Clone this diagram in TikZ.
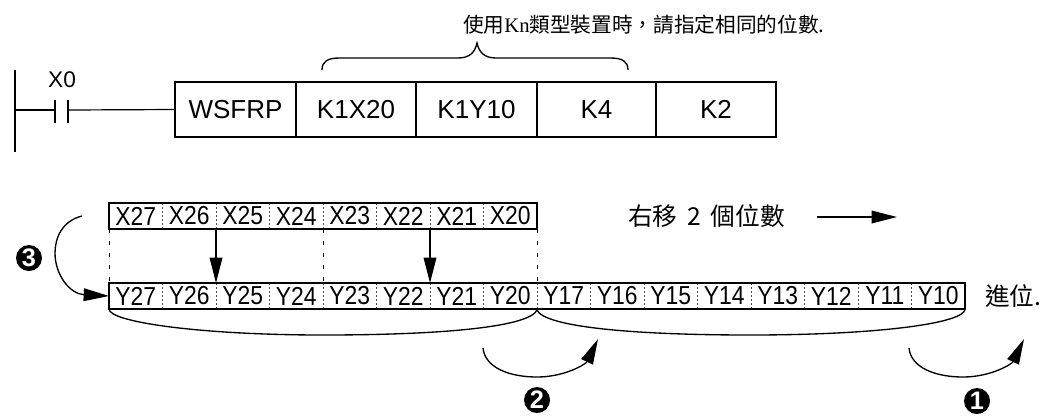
\documentclass[tikz,border=0pt]{standalone}
\usepackage{fontspec}
\setmainfont{Liberation Sans}
\newfontfamily\cjk{Noto Sans CJK TC}
\newfontfamily\serifK{Liberation Serif}
\newfontfamily\cellfont[FakeStretch=0.88]{Liberation Sans}
\usetikzlibrary{arrows.meta}
\tikzset{
  x=0.75pt, y=-0.75pt,
  every node/.style={inner sep=0pt, outer sep=0pt},
  boxcell/.style={draw, line width=0.9pt, minimum height=41.25pt, anchor=west, font=\fontsize{19.5}{21}\selectfont},
  cell/.style={minimum width=40.125pt, minimum height=19.5pt, font=\cellfont\fontsize{19.5}{20}\selectfont},
  rowframe/.style={line width=1.2pt},
  divider/.style={line width=0.4pt, dash pattern=on 1.5pt off 1.5pt, black!70},
  guide/.style={line width=0.6pt, dash pattern=on 3pt off 6pt},
  wire/.style={line width=0.9pt},
  curve/.style={line width=1pt},
  arr/.style={line width=1pt, -{Triangle[length=19pt,width=9.5pt]}},
  numcirc/.style={circle, fill=black, text=white, minimum size=19.5pt, font=\bfseries\fontsize{19}{19}\selectfont},
  cjktext/.style={font=\cjk\fontsize{15.5}{17}\selectfont, anchor=west},
  cjkbig/.style={font=\cjk\fontsize{18.5}{20}\selectfont, anchor=west},
}
\begin{document}
\begin{tikzpicture}
\useasboundingbox (0,0) rectangle (1056,419);

% ---- ladder rung ----
\coordinate (railtop) at (15,70);
\coordinate (railbot) at (15,152);
\coordinate (railmid) at (15,110);
\coordinate (ca) at (55,110);
\coordinate (cat) at (55,100);
\coordinate (cab) at (55,123);
\coordinate (cb) at (68,110);
\coordinate (cbt) at (68,100);
\coordinate (cbb) at (68,123);
\draw[wire] (railtop) -- (railbot);
\draw[wire] (railmid) -- (ca);
\draw[wire] (cat) -- (cab);
\draw[wire] (cbt) -- (cbb);
\node (x0lbl) at (62,80) {\fontsize{17}{18}\selectfont X0};

\node[boxcell, minimum width=90.75pt] (wsfrp) at (175,109.5) {WSFRP};
\node[boxcell, minimum width=90pt] (k1x20) at (wsfrp.east) {K1X20};
\node[boxcell, minimum width=90.75pt] (k1y10) at (k1x20.east) {K1Y10};
\node[boxcell, minimum width=89.25pt] (k4) at (k1y10.east) {K4};
\node[boxcell, minimum width=90pt] (k2) at (k4.east) {K2};
\draw[wire] (cb) -- (wsfrp.west);

% top brace
\coordinate (bl) at (322,70);
\coordinate (bt) at (477,43);
\coordinate (br) at (628,70);
\draw[curve] (bl) .. controls (322,61) and (328,58) .. (340,58) -- (458,58)
  .. controls (470,58) and (475,52) .. (bt)
  .. controls (479,52) and (484,58) .. (496,58) -- (610,58)
  .. controls (622,58) and (628,61) .. (br);
\node[cjktext] (note) at (463,25) {使用{\serifK Kn}類型裝置時，請指定相同的位數.};

% ---- X row ----
\foreach \i in {0,...,7} {
  \pgfmathtruncatemacro{\n}{27-\i}
  \node[cell] (x\i) at ({109+53.5*\i+26.75},216) {X\n};
}
\foreach \i in {0,...,6} {
  \draw[divider] (x\i.north east) -- (x\i.south east);
}
\draw[rowframe] (x0.north west) rectangle (x7.south east);

% ---- Y row ----
\foreach \i in {0,...,15} {
  \pgfmathtruncatemacro{\n}{\i<8 ? 27-\i : 25-\i}
  \node[cell] (y\i) at ({109+53.5*\i+26.75},296) {Y\n};
}
\foreach \i in {0,...,14} {
  \draw[divider] (y\i.north east) -- (y\i.south east);
}
\draw[rowframe] (y0.north west) rectangle (y15.south east);

% guides and transfer arrows
\draw[guide] (x0.south west) -- (y0.north west);
\draw[guide] (x3.south east) -- (y3.north east);
\draw[guide] (x7.south east) -- (y7.north east);
\draw[arr] (x1.south east) -- (y1.north east);
\draw[arr] (x5.south east) -- (y5.north east);

% shift label
\node[cjkbig] (shift) at (628,216) {右移\hspace{0.4em}2\hspace{0.4em}個位數};
\coordinate (sa) at (817,217);
\coordinate (sb) at (897,217);
\draw[arr] (sa) -- (sb);

% carry label
\node[cjkbig] (carry) at (985,296) {進位.};

% arrow 3
\coordinate (a3s) at (82,216);
\draw[arr] (a3s) .. controls (62,221) and (55,238) .. (55,253)
  .. controls (55,275) and (70,294) .. (y0.west);
\node[numcirc] (n3) at (29,258) {3};

% braces below Y row
\coordinate (lb0) at (109,309);
\coordinate (lbm) at (323,335);
\coordinate (tip) at (537,310);
\coordinate (rbm) at (750,335);
\coordinate (rb1) at (965,309);
\draw[curve] (lb0) .. controls (109,322) and (200,335) .. (lbm)
  .. controls (450,335) and (530,326) .. (tip);
\draw[curve] (tip) .. controls (544,326) and (625,335) .. (rbm)
  .. controls (880,335) and (965,323) .. (rb1);

% arrow 2
\coordinate (a2s) at (483,348);
\coordinate (a2m) at (537,377);
\coordinate (a2e) at (598,339);
\draw[arr] (a2s) .. controls (485,368) and (510,377) .. (a2m)
  .. controls (565,377) and (586,364) .. (a2e);
\node[numcirc] (n2) at (537,400) {2};

% arrow 1
\coordinate (a1s) at (909,348);
\coordinate (a1m) at (963,377);
\coordinate (a1e) at (1024,339);
\draw[arr] (a1s) .. controls (911,368) and (936,377) .. (a1m)
  .. controls (991,377) and (1012,364) .. (a1e);
\node[numcirc] (n1) at (977,401) {1};
\end{tikzpicture}
\end{document}
